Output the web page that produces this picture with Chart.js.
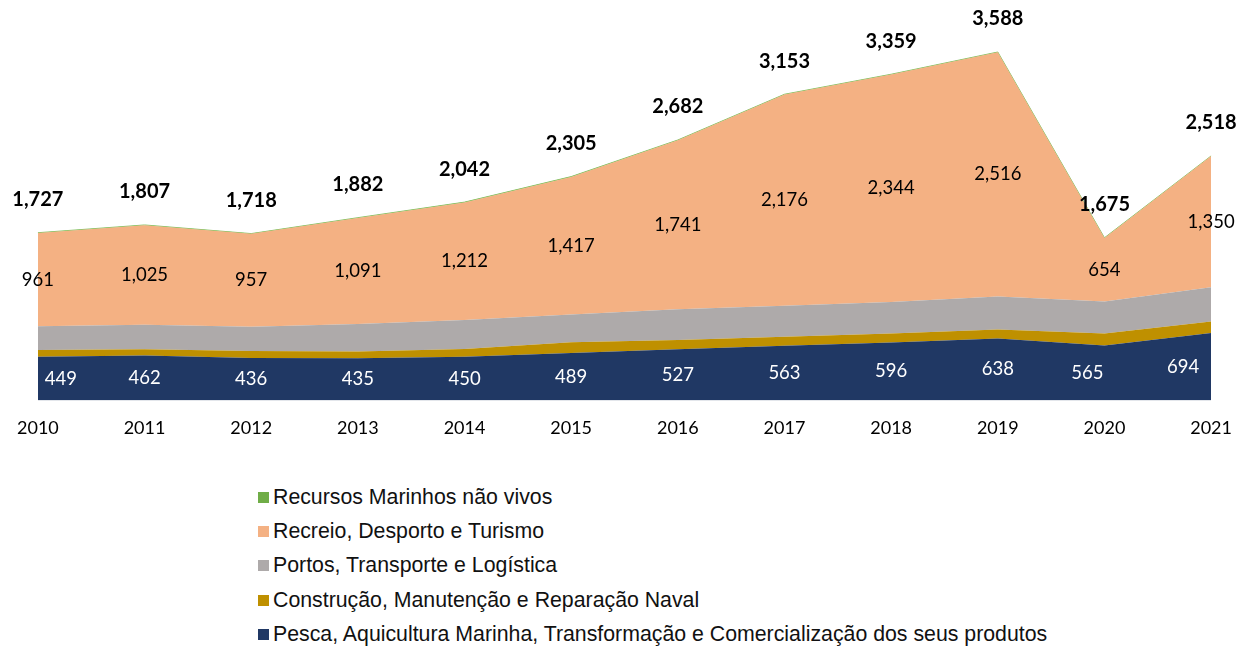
<!DOCTYPE html>
<html>
<head>
<meta charset="utf-8">
<script src="https://cdn.jsdelivr.net/npm/chart.js@4"></script>
<style>
  body { margin: 0; background: #fff; }
  #wrap { position: relative; width: 1249px; height: 648px; }
  #chartBox { position: absolute; left: 0; top: 0; width: 1249px; height: 460px; }
  #legend { position: absolute; left: 258px; top: 480px; font-family: "Liberation Sans", Arial, sans-serif; font-size: 21.3px; color: #111; }
  #legend .item { height: 34.3px; display: flex; align-items: center; white-space: nowrap; }
  #legend .sw { width: 11px; height: 11px; margin-right: 4px; flex: none; }
</style>
</head>
<body>
<div id="wrap">
  <div id="chartBox"><canvas id="c"></canvas></div>
  <div id="legend"></div>
</div>
<script>
const years = ['2010', '2011', '2012', '2013', '2014', '2015', '2016', '2017', '2018', '2019', '2020', '2021'];

const pesca      = [449, 462, 436, 435, 450, 489, 527, 563, 596, 638, 565, 694];
const construcao = [69, 64, 72, 68, 80, 109, 95, 92, 92, 93, 125, 118];
const portos     = [245, 253, 250, 285, 297, 287, 317, 320, 325, 338, 329, 354];
const recreio    = [961, 1025, 957, 1091, 1212, 1417, 1741, 2176, 2344, 2516, 654, 1350];
const recursos   = [3, 3, 3, 3, 3, 3, 2, 2, 2, 3, 2, 2];
const totals     = [1727, 1807, 1718, 1882, 2042, 2305, 2682, 3153, 3359, 3588, 1675, 2518];

const series = [
    {label: 'Pesca, Aquicultura Marinha, Transformação e Comercialização dos seus produtos', data: pesca, color: '#203864'},
    {label: 'Construção, Manutenção e Reparação Naval', data: construcao, color: '#BF9000'},
    {label: 'Portos, Transporte e Logística', data: portos, color: '#AEAAAA'},
    {label: 'Recreio, Desporto e Turismo', data: recreio, color: '#F4B183'},
    {label: 'Recursos Marinhos não vivos', data: recursos, color: '#70AD47'}
];

const fmt = v => v.toLocaleString('en-US');

// small horizontal nudges for the blue labels (Excel keeps them inside the area)
const pescaNudge = {0: 23, 10: -17, 11: -28};

const labelPlugin = {
    id: 'areaLabels',
    afterDatasetsDraw(chart) {
        const ctx = chart.ctx;
        const x = chart.scales.x, y = chart.scales.y;
        ctx.save();
        ctx.textAlign = 'center';
        ctx.textBaseline = 'middle';
        years.forEach((yr, i) => {
            const px = x.getPixelForValue(i);
            // bottom series, white
            ctx.font = '18.5px Lato';
            ctx.fillStyle = '#ffffff';
            ctx.fillText(fmt(pesca[i]), px + (pescaNudge[i] || 0), (y.getPixelForValue(0) + y.getPixelForValue(pesca[i])) / 2);
            // recreio, black, middle of its band
            const base = pesca[i] + construcao[i] + portos[i];
            ctx.fillStyle = '#000000';
            ctx.fillText(fmt(recreio[i]), px, (y.getPixelForValue(base) + y.getPixelForValue(base + recreio[i])) / 2);
            // totals, bold above the stack
            const top = base + recreio[i] + recursos[i];
            ctx.font = 'bold 20px Lato';
            ctx.fillText(fmt(totals[i]), px, y.getPixelForValue(top) - 33);
        });
        ctx.restore();
    }
};

new Chart(document.getElementById('c'), {
    type: 'line',
    data: {
        labels: years,
        datasets: series.map((s, i) => ({
            label: s.label,
            data: s.data,
            backgroundColor: s.color,
            borderColor: i === 4 ? '#8CC46A' : s.color,
            borderWidth: i === 4 ? 1 : 0,
            fill: i === 0 ? 'origin' : '-1',
            pointRadius: 0,
            tension: 0
        }))
    },
    options: {
        responsive: true,
        maintainAspectRatio: false,
        animation: false,
        layout: {padding: {left: 37, right: 37, top: 12, bottom: 4}},
        plugins: {legend: {display: false}, tooltip: {enabled: false}},
        scales: {
            x: {
                offset: false,
                grid: {display: false, drawTicks: false},
                border: {display: false},
                ticks: {padding: 17, color: '#000', font: {family: 'Lato', size: 18}, maxRotation: 0}
            },
            y: {display: false, stacked: true, min: 0, max: 4000}
        }
    },
    plugins: [labelPlugin]
});

// legend, top entry first
const legend = document.getElementById('legend');
series.slice().reverse().forEach(s => {
    legend.innerHTML += `<div class="item"><span class="sw" style="background:${s.color}"></span><span>${s.label}</span></div>`;
});
</script>
</body>
</html>
